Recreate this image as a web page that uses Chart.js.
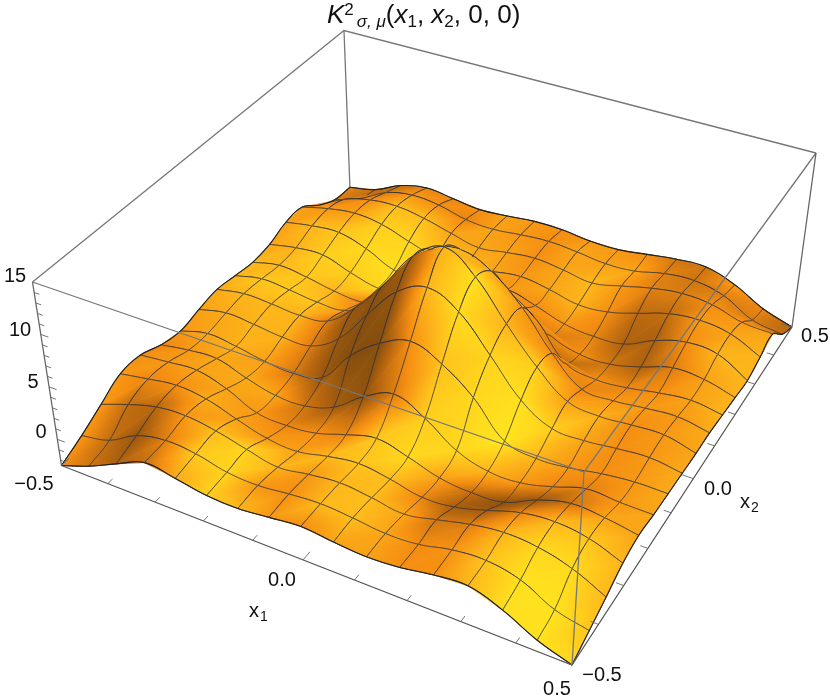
<!DOCTYPE html>
<html>
<head>
<meta charset="utf-8">
<script src="https://cdn.jsdelivr.net/npm/chart.js@4"></script>
<style>
  html, body { margin: 0; padding: 0; background: #fff; }
  #chart { display: block; }
</style>
</head>
<body>
<canvas id="chart" width="830" height="699"></canvas>
<script>
const zMin = -2.5, zMax = 15;
const x1Ticks = [-0.5,-0.4,-0.3,-0.2,-0.1,0,0.1,0.2,0.3,0.4,0.5];
const x2Ticks = [-0.5,-0.4,-0.3,-0.2,-0.1,0,0.1,0.2,0.3,0.4,0.5];
const zTicks = [-2,-1,0,1,2,3,4,5,6,7,8,9,10,11,12,13,14];

// heights[j][i]: j along x2 (front to back), i along x1
const heights = [
[-2.5,-1.5,-0.2,1,0.6,0.1,0,0.3,0.6,0.3,0.1,0.3,0.8,1,0,-1.5,-2.5],
[-1.6,-1,0.5,1.1,0.9,0.25,0.1,0.4,0.6,0.4,0.1,0.25,0.9,1.1,0.5,-1,-1.7],
[-0.5,0.5,1.3,1.5,1.1,0.4,-0.2,0.2,0.5,0.2,-0.2,0.4,1.1,1.5,1.3,0.5,-0.9],
[0.6,1.1,1.5,1.2,0.3,-0.5,-0.7,-0.1,0.3,-0.1,-0.7,-0.5,0.3,1.2,1.5,1.1,0],
[0.6,0.9,1.1,0.3,-1,-1.2,-0.9,0,0.7,0,-0.9,-1.2,-1,0.3,1.1,0.9,0.4],
[-0.2,0.25,0.4,-0.5,-1.2,-1.2,-0.3,1.7,3,1.7,-0.3,-1.2,-1.2,-0.5,0.4,0.25,0.2],
[-0.6,0.1,-0.2,-0.7,-0.9,-0.3,2.8,5,6.2,5,2.8,-0.3,-0.9,-0.7,-0.2,0.1,0.1],
[-0.2,0.4,0.2,-0.1,0,1.7,5,8.2,9.6,8.2,5,1.7,0,-0.1,0.2,0.4,0],
[0.1,0.6,0.5,0.3,0.7,3,6.2,10,11.8,9.8,6.2,3,0.7,0.3,0.5,0.6,-0.1],
[-0.2,0.4,0.2,-0.1,0,1.7,5,8.9,9.8,8.6,6,2.5,0,-0.1,0.2,0.4,-0.1],
[-0.5,0.1,-0.2,-0.7,-0.9,-0.3,2.8,5,6.2,5,3,-0.3,-0.9,-0.7,-0.2,0.1,-0.3],
[-0.3,0.25,0.4,-0.5,-1.2,-1.2,-0.3,1.7,3,1.7,-0.3,-1.2,-1.2,-0.5,0.4,0.25,-0.5],
[0.4,0.9,1.1,0.3,-1,-1.2,-0.9,0,0.7,0,-0.9,-1.2,-1,0.3,1.1,0.9,-0.7],
[0.4,1.1,1.5,1.2,0.3,-0.5,-0.7,-0.1,0.3,-0.1,-0.7,-0.5,0.3,1.2,1.5,1.1,-0.2],
[-1,0.5,1.3,1.5,1.1,0.4,-0.2,0.2,0.5,0.2,-0.2,0.4,1.1,1.5,1.3,0.5,0.3],
[-2,-1,0.5,1.1,0.9,0.25,0.1,0.4,0.6,0.4,0.1,0.25,0.9,1.1,0.5,-1,-1.5],
[-2.2,-1.6,-0.3,0.3,0,-0.3,-0.1,0.2,0.2,-0.1,-0.1,0.3,0.7,0.8,-0.1,-1.6,-2.5]
];
// shade of the surface at each mesh vertex, 0 dark brown to 1 bright yellow
const shades = [
[0.5,0.35,0.22,0.32,0.65,0.85,0.72,0.55,0.5,0.62,0.6,0.5,0.5,0.72,0.95,0.97,0.9],
[0.55,0.3,0.15,0.42,0.82,0.88,0.55,0.5,0.72,0.75,0.62,0.48,0.52,0.78,0.95,0.97,0.8],
[0.55,0.3,0.25,0.55,0.75,0.88,0.7,0.55,0.72,0.75,0.62,0.35,0.4,0.7,0.9,0.92,0.72],
[0.55,0.45,0.5,0.65,0.6,0.55,0.6,0.72,0.78,0.75,0.45,0.2,0.18,0.45,0.72,0.8,0.7],
[0.5,0.55,0.6,0.62,0.55,0.45,0.5,0.45,0.8,0.9,0.6,0.3,0.12,0.15,0.35,0.62,0.62],
[0.45,0.55,0.62,0.65,0.62,0.35,0.18,0.12,0.4,0.85,0.9,0.7,0.55,0.45,0.42,0.55,0.62],
[0.55,0.62,0.68,0.6,0.38,0.14,0.08,0.08,0.5,0.78,0.9,0.98,0.7,0.55,0.5,0.55,0.65],
[0.6,0.65,0.7,0.68,0.4,0.15,0.08,0.13,0.72,0.92,0.88,0.95,0.85,0.62,0.5,0.55,0.65],
[0.65,0.72,0.72,0.7,0.4,0.13,0.1,0.2,0.7,0.95,0.7,0.85,0.6,0.68,0.5,0.55,0.62],
[0.7,0.8,0.82,0.78,0.55,0.2,0.15,0.3,0.72,0.65,0.55,0.5,0.45,0.55,0.55,0.55,0.65],
[0.72,0.72,0.8,0.7,0.45,0.35,0.3,0.3,0.5,0.6,0.55,0.3,0.5,0.45,0.5,0.6,0.7],
[0.62,0.7,0.85,0.85,0.9,0.95,0.7,0.5,0.5,0.5,0.4,0.5,0.35,0.22,0.4,0.6,0.7],
[0.6,0.72,0.8,0.9,0.95,0.9,0.85,0.55,0.55,0.5,0.55,0.45,0.22,0.22,0.5,0.7,0.72],
[0.6,0.55,0.6,0.85,0.9,0.8,0.7,0.62,0.55,0.62,0.7,0.5,0.28,0.3,0.55,0.62,0.7],
[0.5,0.4,0.5,0.75,0.75,0.62,0.62,0.6,0.5,0.62,0.72,0.55,0.42,0.4,0.5,0.55,0.62],
[0.4,0.3,0.4,0.55,0.5,0.45,0.6,0.55,0.5,0.62,0.6,0.62,0.42,0.35,0.42,0.4,0.3],
[0.45,0.3,0.3,0.45,0.45,0.5,0.6,0.55,0.5,0.55,0.55,0.5,0.35,0.35,0.55,0.45,0.25]
];
const shadeStops = [[0,'#6e430e'],[0.25,'#b5650f'],[0.5,'#f58f12'],[0.75,'#ffbd1c'],[1,'#ffe81f']];

// box corners on screen: front-left, front-right, right, back
const bottomQuad = [[61.5,465.5],[572,665],[792,327],[350,190]];
const topQuad = [[32.5,282],[584,472],[816,153],[344,30.5]];

function squareToQuad(q) {
    const [[x0,y0],[x1,y1],[x2,y2],[x3,y3]] = q;
    const sx = x0-x1+x2-x3, sy = y0-y1+y2-y3;
    const dx1 = x1-x2, dx2 = x3-x2, dy1 = y1-y2, dy2 = y3-y2;
    const den = dx1*dy2-dx2*dy1;
    const g = (sx*dy2-dx2*sy)/den, h = (dx1*sy-sx*dy1)/den;
    const a = x1-x0+g*x1, b = x3-x0+h*x3, d = y1-y0+g*y1, e = y3-y0+h*y3;
    return (u, v) => {
        const w = g*u+h*v+1;
        return [(a*u+b*v+x0)/w, (d*u+e*v+y0)/w];
    };
}
const mapBottom = squareToQuad(bottomQuad);
const mapTop = squareToQuad(topQuad);

function project(x1, x2, z) {
    const u = x1+0.5, v = x2+0.5, t = (z-zMin)/(zMax-zMin);
    const p = mapBottom(u, v), q = mapTop(u, v);
    return {x: p[0]+(q[0]-p[0])*t, y: p[1]+(q[1]-p[1])*t};
}

const n = heights.length-1;
const vertex = (i, j) => project(i/n-0.5, j/n-0.5, heights[j][i]);

const ctx = document.getElementById('chart').getContext('2d');

// a triangle with a linear shade across it is exactly a canvas linear gradient
function shadeGradient(a, b, c, sa, sb, sc) {
    const det = (b.x-a.x)*(c.y-a.y)-(c.x-a.x)*(b.y-a.y);
    let gx = 0, gy = 0;
    if (Math.abs(det) > 1e-6) {
        gx = ((sb-sa)*(c.y-a.y)-(sc-sa)*(b.y-a.y))/det;
        gy = ((sc-sa)*(b.x-a.x)-(sb-sa)*(c.x-a.x))/det;
    }
    if (gx*gx+gy*gy < 1e-8) { gx = 1e-4; gy = 0; }
    const len = gx*gx+gy*gy;
    const grad = ctx.createLinearGradient(
        a.x-sa*gx/len, a.y-sa*gy/len,
        a.x+(1-sa)*gx/len, a.y+(1-sa)*gy/len);
    shadeStops.forEach(s => grad.addColorStop(s[0], s[1]));
    return grad;
}

function triangle(i0,j0,i1,j1,i2,j2) {
    const a = vertex(i0,j0), b = vertex(i1,j1), c = vertex(i2,j2);
    const g = shadeGradient(a,b,c,shades[j0][i0],shades[j1][i1],shades[j2][i2]);
    return {data:[a,b,c,a], showLine:true, fill:'shape', backgroundColor:g, borderColor:g, borderWidth:0.8, pointRadius:0};
}
function polyline(points, color, width, tension) {
    return {data:points, showLine:true, fill:false, borderColor:color, borderWidth:width, pointRadius:0, tension:tension || 0};
}

// one mesh edge, curved through its neighbours; only the middle piece is stroked
const meshColor = 'rgba(50,50,55,0.85)';
function meshEdge(i, j, di, dj) {
    const pts = [];
    let first = 0;
    if (i-di >= 0 && j-dj >= 0) { pts.push(vertex(i-di,j-dj)); first = 1; }
    pts.push(vertex(i,j), vertex(i+di,j+dj));
    if (i+2*di <= n && j+2*dj <= n) pts.push(vertex(i+2*di,j+2*dj));
    const ds = polyline(pts, meshColor, 0.9, 0.4);
    ds.segment = {borderColor: c => c.p0DataIndex === first ? meshColor : 'rgba(0,0,0,0)'};
    return ds;
}

const datasets = [];
const boxLine = '#777777';
const corner = (u, v, z) => project(u-0.5, v-0.5, z);

// back of the box goes under the surface
datasets.push(polyline([corner(0,0,zMax),corner(0,1,zMax),corner(1,1,zMax)], boxLine, 1.3));
datasets.push(polyline([corner(0,1,zMax),corner(0,1,zMin)], boxLine, 1.3));
datasets.push(polyline([corner(0,0,zMin),corner(0,1,zMin),corner(1,1,zMin)], boxLine, 1.3));

// cells back to front
const cells = [];
for (let j = 0; j < n; j++) for (let i = 0; i < n; i++) cells.push([i,j]);
cells.sort((p,q) => (p[0]-p[1])-(q[0]-q[1]));
cells.forEach(([i,j]) => {
    datasets.push(triangle(i,j,i+1,j,i+1,j+1));
    datasets.push(triangle(i,j,i+1,j+1,i,j+1));
    datasets.push(meshEdge(i,j,1,0), meshEdge(i,j+1,1,0), meshEdge(i,j,0,1), meshEdge(i+1,j,0,1));
});

// surface outline, one piece per side
const sides = [[],[],[],[]];
for (let k = 0; k <= n; k++) {
    sides[0].push(vertex(k,0));
    sides[1].push(vertex(n,k));
    sides[2].push(vertex(k,n));
    sides[3].push(vertex(0,k));
}
sides.forEach(s => datasets.push(polyline(s, '#222222', 1.1, 0.4)));

// front of the box and axes
datasets.push(polyline([corner(0,0,zMax),corner(1,0,zMax),corner(1,1,zMax)], boxLine, 1.3));
datasets.push(polyline([corner(1,0,zMax),corner(1,0,zMin)], boxLine, 1.3));
datasets.push(polyline([corner(0,0,zMax),corner(0,0,zMin)], '#666666', 1.3));
datasets.push(polyline([corner(1,1,zMax),corner(1,1,zMin)], '#666666', 1.3));
datasets.push(polyline([corner(0,0,zMin),corner(1,0,zMin),corner(1,1,zMin)], '#555555', 1.3));

x1Ticks.forEach((t,k) => {
    const len = k%5 === 0 ? 0.022 : 0.014;
    datasets.push(polyline([project(t,-0.5,zMin),project(t,-0.5+len,zMin)], '#666666', 0.9));
});
x2Ticks.forEach((t,k) => {
    const len = k%5 === 0 ? 0.022 : 0.014;
    datasets.push(polyline([project(0.5,t,zMin),project(0.5-len,t,zMin)], '#666666', 0.9));
});
zTicks.forEach(t => {
    const len = t%5 === 0 ? 0.016 : 0.011;
    datasets.push(polyline([project(-0.5,-0.5,t),project(-0.5+len,-0.5,t)], '#666666', 0.9));
});

const font = 'px "Liberation Sans", Arial, sans-serif';
const labelPlugin = {
    id: 'labels',
    afterDraw(chart) {
        const c = chart.ctx;
        c.save();
        c.fillStyle = '#111';
        c.textAlign = 'center';
        c.textBaseline = 'alphabetic';
        c.font = '20' + font;
        [['15',15,282],['10',20,336],['5',33,388],['0',41,438],['\u22120.5',34,490],
         ['0.0',282,586],['0.5',557,695],['\u22120.5',602,681],['0.0',718,495],['0.5',815,342]]
            .forEach(l => c.fillText(l[0],l[1],l[2]));
        c.textAlign = 'left';
        c.font = '20' + font; c.fillText('x',249,617);
        c.font = '14' + font; c.fillText('1',260,621);
        c.font = '20' + font; c.fillText('x',740,508);
        c.font = '14' + font; c.fillText('2',751,512);
        // title runs
        let x = 327;
        [['K','italic 26',23,0],['2','17',15,3],['\u03c3, \u03bc','italic 17',27,0],['(','26',23,0],['x','italic 26',23,0],['1','17',27,0],[', ','26',23,0],
         ['x','italic 26',23,0],['2','17',27,0],[', 0, 0)','26',23,0]].forEach(r => {
            c.font = r[1] + font;
            c.fillText(r[0], x, r[2]);
            x += c.measureText(r[0]).width + r[3];
        });
        c.restore();
    }
};

new Chart(ctx, {
    type: 'scatter',
    data: {datasets: datasets.reverse()},
    plugins: [labelPlugin],
    options: {
        responsive: false,
        animation: false,
        layout: {padding: 0},
        plugins: {legend: {display:false}, tooltip: {enabled:false}, title: {display:false}},
        scales: {
            x: {type:'linear', min:0, max:830, display:false},
            y: {type:'linear', min:0, max:699, reverse:true, display:false}
        }
    }
});
</script>
</body>
</html>
